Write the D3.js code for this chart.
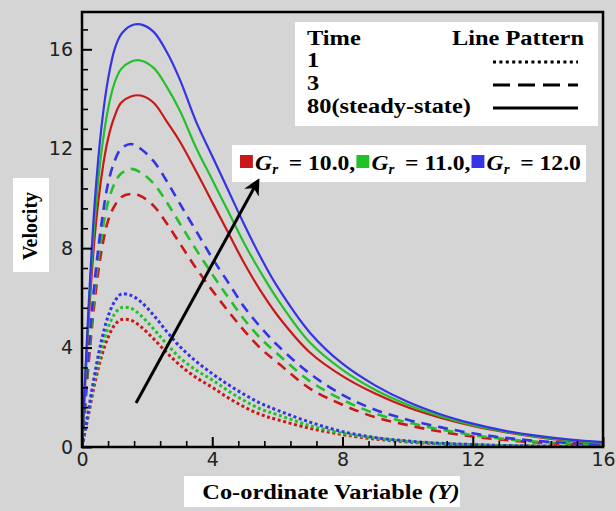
<!DOCTYPE html>
<html>
<head>
<meta charset="utf-8">
<script src="https://cdn.jsdelivr.net/npm/d3@7"></script>
<style>
  body { margin: 0; background: #d5d5d5; }
  svg { display: block; }
</style>
</head>
<body>
<div id="chart"></div>
<script>
// co-ordinate variable Y (x axis)
const yCoord = [0, 0.2, 0.4, 0.6, 0.8, 1.0, 1.2, 1.5, 1.8, 2.2, 2.6, 3.0, 3.5, 4.0, 4.5, 5.0, 5.5, 6.0, 7, 8, 9, 10, 11, 12, 13, 14, 15, 16];

// velocity, time = 80 (steady-state)
const steadyGr10 = [0, 5.0, 8.6, 10.9, 12.4, 13.3, 13.85, 14.1, 14.14, 13.85, 13.1, 12.3, 11.1, 9.85, 8.6, 7.35, 6.25, 5.3, 3.8, 2.85, 2.15, 1.6, 1.18, 0.85, 0.6, 0.4, 0.25, 0.14];
const steadyGr11 = [0, 5.3, 9.3, 11.9, 13.6, 14.65, 15.2, 15.5, 15.55, 15.25, 14.5, 13.55, 12.05, 10.75, 9.45, 8.15, 7.0, 5.95, 4.2, 3.1, 2.3, 1.7, 1.24, 0.88, 0.62, 0.42, 0.27, 0.17];
const steadyGr12 = [0, 5.6, 10.0, 12.9, 14.8, 16.0, 16.6, 16.95, 17.0, 16.7, 15.9, 14.8, 13.1, 11.7, 10.3, 8.9, 7.6, 6.45, 4.6, 3.35, 2.48, 1.82, 1.32, 0.94, 0.65, 0.45, 0.3, 0.2];

// velocity, time = 3
const t3Gr10 = [0, 3.3, 6.0, 7.9, 9.1, 9.7, 10.05, 10.18, 10.1, 9.7, 9.0, 8.2, 7.2, 6.3, 5.45, 4.65, 3.95, 3.4, 2.35, 1.7, 1.2, 0.88, 0.62, 0.42, 0.28, 0.18, 0.12, 0.08];
const t3Gr11 = [0, 3.55, 6.4, 8.45, 9.85, 10.6, 11.0, 11.19, 11.05, 10.6, 9.85, 9.0, 7.95, 6.95, 6.0, 5.1, 4.35, 3.75, 2.65, 1.9, 1.35, 0.99, 0.71, 0.48, 0.32, 0.21, 0.14, 0.09];
const t3Gr12 = [0, 3.8, 6.8, 9.0, 10.6, 11.5, 12.0, 12.19, 12.0, 11.5, 10.7, 9.8, 8.7, 7.6, 6.6, 5.6, 4.8, 4.1, 2.95, 2.1, 1.5, 1.1, 0.8, 0.55, 0.37, 0.24, 0.16, 0.1];

// velocity, time = 1
const t1Gr10 = [0, 1.3, 2.6, 3.65, 4.4, 4.9, 5.12, 5.1, 4.85, 4.35, 3.8, 3.3, 2.8, 2.4, 1.97, 1.6, 1.3, 1.1, 0.75, 0.5, 0.32, 0.2, 0.13, 0.08, 0.05, 0.03, 0.02, 0.01];
const t1Gr11 = [0, 1.4, 2.8, 3.95, 4.8, 5.35, 5.6, 5.58, 5.3, 4.75, 4.15, 3.6, 3.1, 2.7, 2.25, 1.85, 1.52, 1.3, 0.86, 0.55, 0.36, 0.22, 0.14, 0.09, 0.055, 0.035, 0.02, 0.01];
const t1Gr12 = [0, 1.5, 3.0, 4.3, 5.25, 5.85, 6.15, 6.1, 5.85, 5.3, 4.65, 4.05, 3.45, 2.95, 2.5, 2.1, 1.75, 1.48, 1.0, 0.62, 0.38, 0.24, 0.15, 0.1, 0.06, 0.04, 0.02, 0.01];

const grLabels = ["10.0", "11.0", "12.0"];
const grColors = ["#c81818", "#22c02a", "#3434e4"];
const timeLabels = ["1", "3", "80(steady-state)"];
const xTicks = [0, 4, 8, 12, 16];
const yTicks = [0, 4, 8, 12, 16];

const width = 616, height = 511;
const serif = "'Liberation Serif', 'Times New Roman', serif";
const stretch = 1.22; // the original figure is widened a little

const svg = d3.select('#chart').append('svg')
  .attr('width', width)
  .attr('height', height);

svg.append('rect').attr('width', width).attr('height', height).attr('fill', '#d5d5d5');

const x = d3.scaleLinear().domain([0, 16]).range([82, 603]);
const y = d3.scaleLinear().domain([0, 17.5]).range([447, 12]);

svg.append('clipPath').attr('id', 'plotClip')
  .append('rect')
  .attr('x', x(0)).attr('y', y(17.5))
  .attr('width', x(16) - x(0)).attr('height', y(0) - y(17.5));

// curves
const line = d3.line()
  .x((d, i) => x(yCoord[i]))
  .y(d => y(d))
  .curve(d3.curveCatmullRom.alpha(0.5));

const groups = [
  { series: [t1Gr10, t1Gr11, t1Gr12], dash: '3,2.6', w: 3 },
  { series: [t3Gr10, t3Gr11, t3Gr12], dash: '10,7', w: 2.6 },
  { series: [steadyGr10, steadyGr11, steadyGr12], dash: null, w: 2.2 }
];

const curves = svg.append('g').attr('clip-path', 'url(#plotClip)');
groups.forEach(g => {
  g.series.forEach((s, k) => {
    curves.append('path')
      .attr('d', line(s))
      .attr('fill', 'none')
      .attr('stroke', grColors[k])
      .attr('stroke-width', g.w)
      .attr('stroke-dasharray', g.dash);
  });
});

// axes, ticks pointing inward
const minorX = d3.range(1, 20).filter(i => i % 5).map(i => i * 0.8);
const minorY = d3.range(1, 22).filter(i => i % 5).map(i => i * 0.8);

function styleAxis(g, w) {
  g.select('.domain').remove();
  g.selectAll('line').attr('stroke', '#000').attr('stroke-width', w);
  g.selectAll('text')
    .style('font-family', "'DejaVu Sans', Verdana, sans-serif")
    .style('font-size', '19px')
    .attr('fill', '#222');
}

svg.append('g').attr('transform', `translate(${x(0)},0)`)
  .call(d3.axisLeft(y).tickValues(minorY).tickSize(-6).tickFormat(''))
  .call(g => styleAxis(g, 1.6));
svg.append('g').attr('transform', `translate(${x(0)},0)`)
  .call(d3.axisLeft(y).tickValues(yTicks).tickSize(-10).tickPadding(9).tickFormat(d3.format('d')))
  .call(g => styleAxis(g, 2));
svg.append('g').attr('transform', `translate(0,${y(0)})`)
  .call(d3.axisBottom(x).tickValues(minorX).tickSize(-6).tickFormat(''))
  .call(g => styleAxis(g, 1.6));
svg.append('g').attr('transform', `translate(0,${y(0)})`)
  .call(d3.axisBottom(x).tickValues(xTicks).tickSize(-10).tickPadding(6).tickFormat(d3.format('d')))
  .call(g => styleAxis(g, 2));

// frame
svg.append('rect')
  .attr('x', x(0)).attr('y', y(17.5))
  .attr('width', x(16) - x(0)).attr('height', y(0) - y(17.5))
  .attr('fill', 'none').attr('stroke', '#000').attr('stroke-width', 2.5);

// axis titles
svg.append('rect').attr('x', 13).attr('y', 178).attr('width', 36).attr('height', 94).attr('fill', '#fff');
svg.append('text')
  .attr('transform', 'translate(37,226) rotate(-90)')
  .attr('text-anchor', 'middle')
  .style('font-family', serif).style('font-weight', 'bold').style('font-size', '20px')
  .text('Velocity');

svg.append('rect').attr('x', 184).attr('y', 476).attr('width', 276).attr('height', 31).attr('fill', '#fff');
const xt = svg.append('text')
  .attr('transform', `translate(331,499) scale(${stretch},1)`)
  .attr('text-anchor', 'middle')
  .style('font-family', serif).style('font-weight', 'bold').style('font-size', '20px');
xt.append('tspan').text('Co-ordinate  Variable ');
xt.append('tspan').style('font-style', 'italic').text('(Y)');

// time / line pattern legend
const leg = svg.append('g');
leg.append('rect').attr('x', 295).attr('y', 22).attr('width', 303).attr('height', 104).attr('fill', '#fff');
const legText = (g, tx, ty, s, anchor) => g.append('text')
  .attr('transform', `translate(${tx},${ty}) scale(${stretch},1)`)
  .attr('text-anchor', anchor || 'start')
  .style('font-family', serif).style('font-weight', 'bold').style('font-size', '20px')
  .text(s);
legText(leg, 307, 45, 'Time');
legText(leg, 584, 45, 'Line Pattern', 'end');
const patterns = [
  { dash: '3,3.4', w: 3 },
  { dash: '17,8', w: 3 },
  { dash: null, w: 3 }
];
timeLabels.forEach((t, i) => {
  const yy = 67 + i * 23;
  legText(leg, 307, yy, t);
  leg.append('line')
    .attr('x1', 493).attr('x2', 578)
    .attr('y1', yy - 5).attr('y2', yy - 5)
    .attr('stroke', '#000')
    .attr('stroke-width', patterns[i].w)
    .attr('stroke-dasharray', patterns[i].dash);
});

// Gr legend: squares and labels flow left to right, then widened to fit the box
svg.append('rect').attr('x', 232).attr('y', 145).attr('width', 354).attr('height', 37).attr('fill', '#fff');
const gl = svg.append('g');
let cx = 0;
grLabels.forEach((lab, k) => {
  gl.append('rect').attr('x', cx).attr('y', 155).attr('width', 12).attr('height', 13).attr('fill', grColors[k]);
  const t = gl.append('text')
    .attr('x', cx + 14).attr('y', 170)
    .style('font-family', serif).style('font-weight', 'bold').style('font-size', '22px');
  t.append('tspan').style('font-style', 'italic').text('G');
  t.append('tspan').style('font-style', 'italic').style('font-size', '14px').attr('dy', 4).text('r');
  t.append('tspan').attr('dy', -4).text('\u2009 = ' + lab + (k < 2 ? ',' : ''));
  cx = cx + 14 + t.node().getComputedTextLength() + 1;
});
const glScale = (582 - 240) / cx;
gl.attr('transform', `translate(240,0) scale(${glScale},1)`);

// arrow showing increasing Gr
svg.append('defs').append('marker')
  .attr('id', 'head')
  .attr('viewBox', '0 0 10 10')
  .attr('refX', 8).attr('refY', 5)
  .attr('markerWidth', 5.5).attr('markerHeight', 5.5)
  .attr('orient', 'auto')
  .append('path').attr('d', 'M0,0 L10,5 L0,10 L3,5 Z').attr('fill', '#000');

svg.append('line')
  .attr('x1', x(1.66)).attr('y1', y(1.77))
  .attr('x2', x(5.4)).attr('y2', y(10.7))
  .attr('stroke', '#000').attr('stroke-width', 3)
  .attr('marker-end', 'url(#head)');
</script>
</body>
</html>
